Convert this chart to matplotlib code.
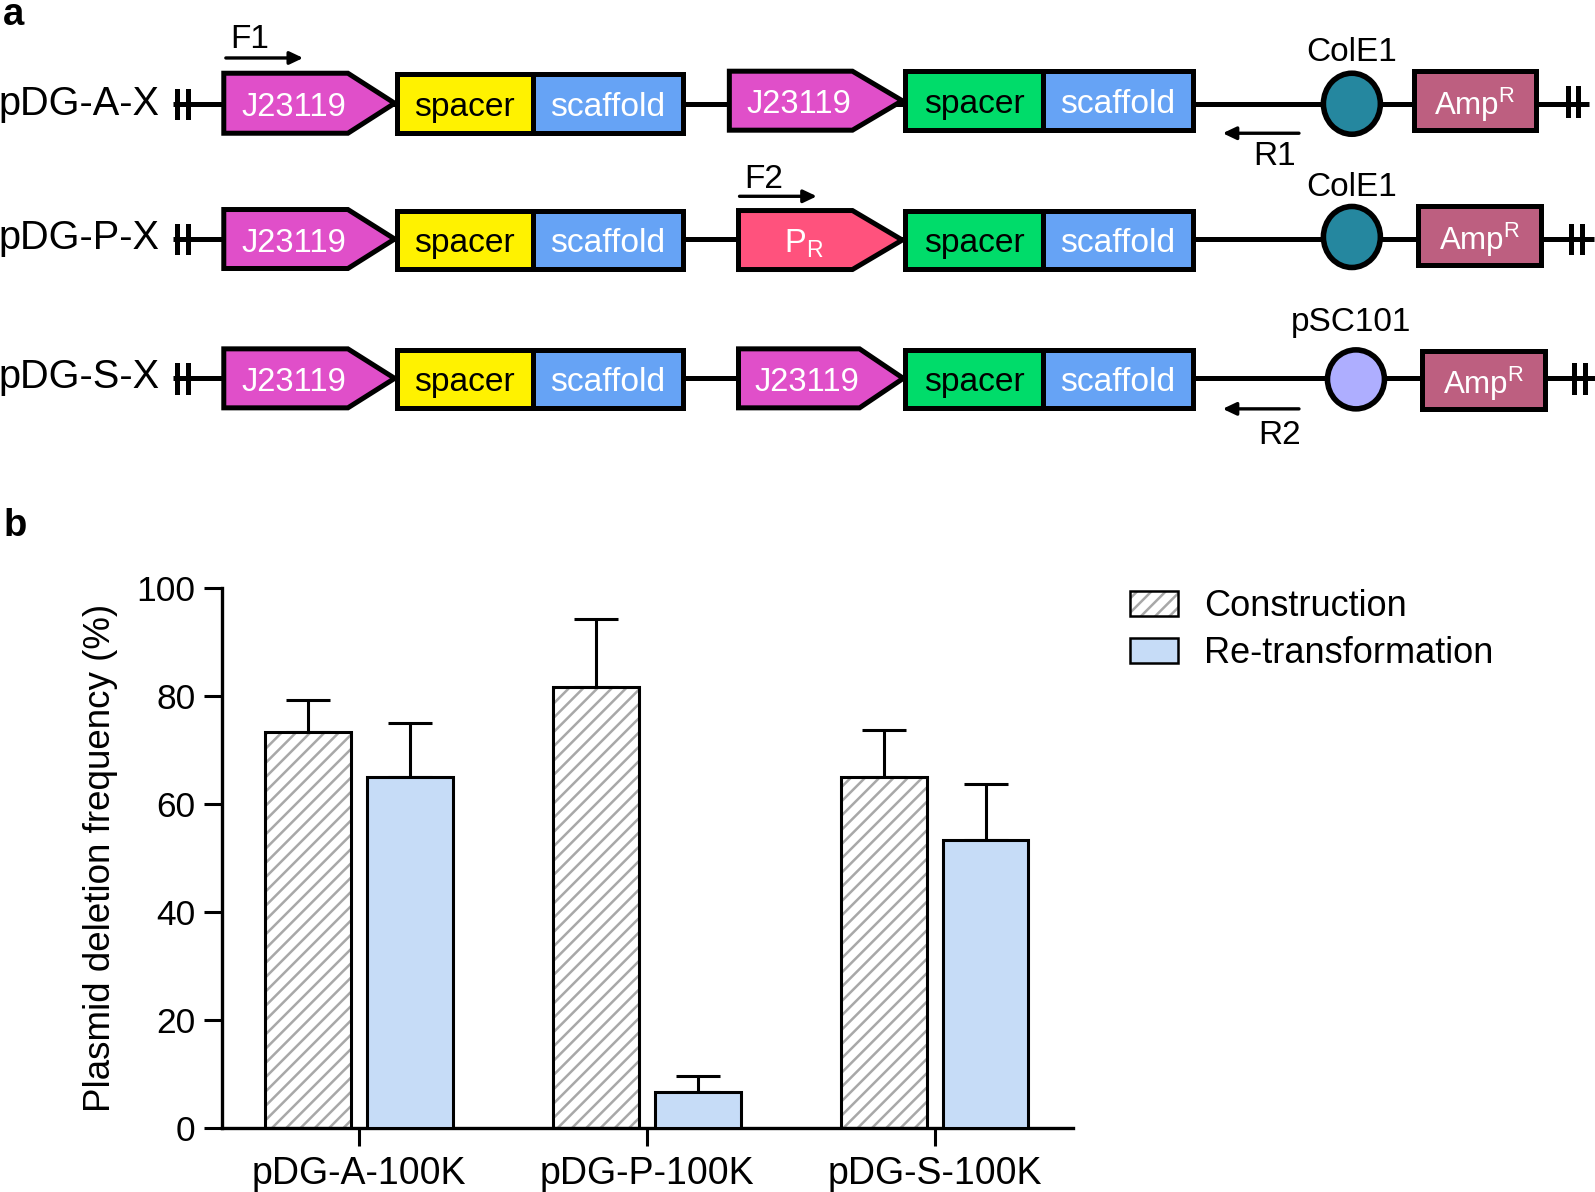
import matplotlib
matplotlib.use('Agg')
import numpy as np
import matplotlib.pyplot as plt
from matplotlib import hatch as mhatch
from matplotlib.patches import Polygon, Rectangle, Ellipse, Patch
from matplotlib.legend_handler import HandlerTuple

plt.rcParams['font.family'] = ['Liberation Sans', 'DejaVu Sans']
plt.rcParams['hatch.linewidth'] = 1.8


# '//' is a bit too sparse and '///' too dense for this figure
class Stripes(mhatch.NorthEastHatch):
    def __init__(self, hatch, density):
        super().__init__(hatch, density)
        self.num_lines = int(hatch.count('/') * density * 1.2)
        self.num_vertices = (self.num_lines + 1) * 2 if self.num_lines else 0


mhatch._hatch_types[mhatch._hatch_types.index(mhatch.NorthEastHatch)] = Stripes

# --- panel b data
groups = ['pDG-A-100K', 'pDG-P-100K', 'pDG-S-100K']
construction = [73.4, 81.7, 65.0]
construction_err = [5.8, 12.6, 8.6]
retransformation = [65.0, 6.6, 53.3]
retransformation_err = [10.0, 3.0, 10.4]
y_ticks = [0, 20, 40, 60, 80, 100]

# --- panel a data, rows of parts (x in px of the 1568 wide view)
row_names = ['pDG-A-X', 'pDG-P-X', 'pDG-S-X']
row_name_y = [102, 234, 371]
row_line_y = [102, 235, 372]
promoter1_y = [(72, 131), (206, 264), (343, 401)]
promoter2_x = [(717, 838, 887), (726, 838, 887), (726, 845, 888)]
promoter2_y = [(70, 128), (207, 265), (343, 401)]
promoter2_names = ['J23119', 'P$_{\\mathregular{R}}$', 'J23119']
promoter2_colors = ['#E04FC9', '#FF527D', '#E04FC9']
spacer1_y = [(73, 131), (207, 264), (344, 401)]
spacer2_y = [(70, 128), (207, 264), (344, 401)]
ori_names = ['ColE1', 'ColE1', 'pSC101']
ori_x = [1329, 1329, 1333]
ori_y = [102, 233, 373]
ori_r = [(28, 30), (28, 30), (28, 29)]
ori_colors = ['#25879F', '#25879F', '#AEAEFF']
ori_label_x = [1329, 1329, 1328]
ori_label_y = [52, 184, 317]
amp_x = [(1390, 1510), (1394, 1515), (1398, 1519)]
amp_y = [(70, 128), (203, 261), (345, 402)]
end_bars_x = [(1541, 1551), (1544, 1555), (1547, 1558)]
end_bars_y = [100, 235, 372]
primers = [('F1', 222, 298, 57, 245, 39), ('F2', 727, 803, 193, 751, 176),
           ('R1', 1277, 1202, 131, 1253, 154), ('R2', 1277, 1202, 402, 1258, 428)]

BLK = '#000000'
LW = 3.6
FS = 25.5

fig = plt.figure(figsize=(15.95, 11.92), dpi=100)

# overlay in view pixels for the construct drawings
ov = fig.add_axes([0, 0, 1, 1])
ov.set_xlim(0, 1568)
ov.set_ylim(1172, 0)
ov.axis('off')


def promoter(x0, xs, x1, y0, y1, color, name):
    pts = [(x0, y0), (xs, y0), (x1, (y0 + y1) / 2), (xs, y1), (x0, y1)]
    ov.add_patch(Polygon(pts, closed=True, fc=color, ec=BLK, lw=LW, joinstyle='miter', zorder=3))
    ov.text((x0 + xs) / 2 + 8, (y0 + y1) / 2 + 4, name, color='white', fontsize=23.5, ha='center', va='center', zorder=4)


def box(x0, x1, y0, y1, color, name, tcolor, fs=24.2):
    ov.add_patch(Rectangle((x0, y0), x1 - x0, y1 - y0, fc=color, ec=BLK, lw=LW, zorder=3))
    ov.text((x0 + x1) / 2, (y0 + y1) / 2 + 4, name, color=tcolor, fontsize=fs, ha='center', va='center', zorder=4)


for i in range(3):
    y = row_line_y[i]
    ov.plot([170, amp_x[i][1] + 52], [y, y], color=BLK, lw=LW, zorder=1, solid_capstyle='butt')
    ov.text(-1, row_name_y[i], row_names[i], fontsize=28.6, ha='left', va='center')
    for bx in (174, 185):
        ov.plot([bx, bx], [y - 13, y + 13], color=BLK, lw=LW, zorder=2)
    for bx in end_bars_x[i]:
        ov.plot([bx, bx], [end_bars_y[i] - 13, end_bars_y[i] + 13], color=BLK, lw=LW, zorder=2)
    promoter(220, 342, 388, promoter1_y[i][0], promoter1_y[i][1], '#E04FC9', 'J23119')
    box(390, 524, spacer1_y[i][0], spacer1_y[i][1], '#FFF200', 'spacer', 'black')
    box(524, 671, spacer1_y[i][0], spacer1_y[i][1], '#66A3F5', 'scaffold', 'white')
    px = promoter2_x[i]
    promoter(px[0], px[1], px[2], promoter2_y[i][0], promoter2_y[i][1], promoter2_colors[i], promoter2_names[i])
    box(890, 1025, spacer2_y[i][0], spacer2_y[i][1], '#00DC6A', 'spacer', 'black')
    box(1025, 1173, spacer2_y[i][0], spacer2_y[i][1], '#66A3F5', 'scaffold', 'white')
    ov.add_patch(Ellipse((ori_x[i], ori_y[i]), 2 * ori_r[i][0], 2 * ori_r[i][1], fc=ori_colors[i], ec=BLK, lw=LW + 0.4, zorder=3))
    ov.text(ori_label_x[i], ori_label_y[i], ori_names[i], fontsize=24, ha='center', va='center')
    box(amp_x[i][0], amp_x[i][1], amp_y[i][0], amp_y[i][1], '#BD5F80', 'Amp$^{\\mathregular{R}}$', 'white', fs=22.5)

for name, xa, xb, ya, tx, ty in primers:
    ov.annotate('', xy=(xb, ya), xytext=(xa, ya),
                arrowprops=dict(arrowstyle='-|>,head_length=0.8,head_width=0.38', color=BLK, lw=2.4, shrinkA=0, shrinkB=0))
    ov.text(tx, ty, name, fontsize=24, ha='center', va='center')

ov.text(3, 25, 'a', fontsize=27.5, fontweight='bold', ha='left', va='baseline')
ov.text(3, 527, 'b', fontsize=27.5, fontweight='bold', ha='left', va='baseline')

# bar chart
ax = fig.add_axes([218 / 1568, 1 - 1109 / 1172, (1055 - 218) / 1568, (1109 - 578) / 1172])
ax.patch.set_alpha(0)
x = np.arange(len(groups))
w = 84 / 283
off = 50 / 283
ax.bar(x - off, construction, w, color='white', edgecolor='#a8a8a8', hatch='//', lw=0, zorder=2)
ax.bar(x - off, construction, w, fill=False, edgecolor=BLK, lw=2.2, zorder=3)
ax.bar(x + off, retransformation, w, color='#C6DCF7', edgecolor=BLK, lw=2.2, zorder=3)
for xs, vals, errs in ((x - off, construction, construction_err), (x + off, retransformation, retransformation_err)):
    ax.errorbar(xs, vals, yerr=[np.zeros(3), errs], fmt='none', ecolor=BLK, elinewidth=2.2,
                capsize=15.5, capthick=2.2, zorder=1)

ax.set_xlim((218 - 353) / 283, (1055 - 353) / 283)
ax.set_ylim(0, 100)
ax.set_xticks(x)
ax.set_xticklabels(groups)
ax.set_yticks(y_ticks)
ax.tick_params(axis='y', labelsize=FS, width=2.2, length=13, pad=6)
ax.tick_params(axis='x', labelsize=27, width=2.2, length=13, pad=7)
ax.set_ylabel('Plasmid deletion frequency (%)', fontsize=26.5, labelpad=13)
for s in ('top', 'right'):
    ax.spines[s].set_visible(False)
for s in ('left', 'bottom'):
    ax.spines[s].set_linewidth(2.4)

h1 = (Patch(fc='white', ec='#a8a8a8', hatch='//', lw=0), Patch(fill=False, ec=BLK, lw=1.8))
h2 = Patch(fc='#C6DCF7', ec=BLK, lw=1.8)
fig.legend([h1, h2], ['Construction', 'Re-transformation'], handler_map={tuple: HandlerTuple(ndivide=1, pad=0)},
           loc='upper left', bbox_to_anchor=(1111 / 1568, 1 - 579 / 1172), frameon=False, fontsize=26,
           handlelength=1.33, handleheight=0.68, handletextpad=0.72, labelspacing=0.33, borderpad=0, borderaxespad=0)

fig.savefig('out.png', dpi=100)
